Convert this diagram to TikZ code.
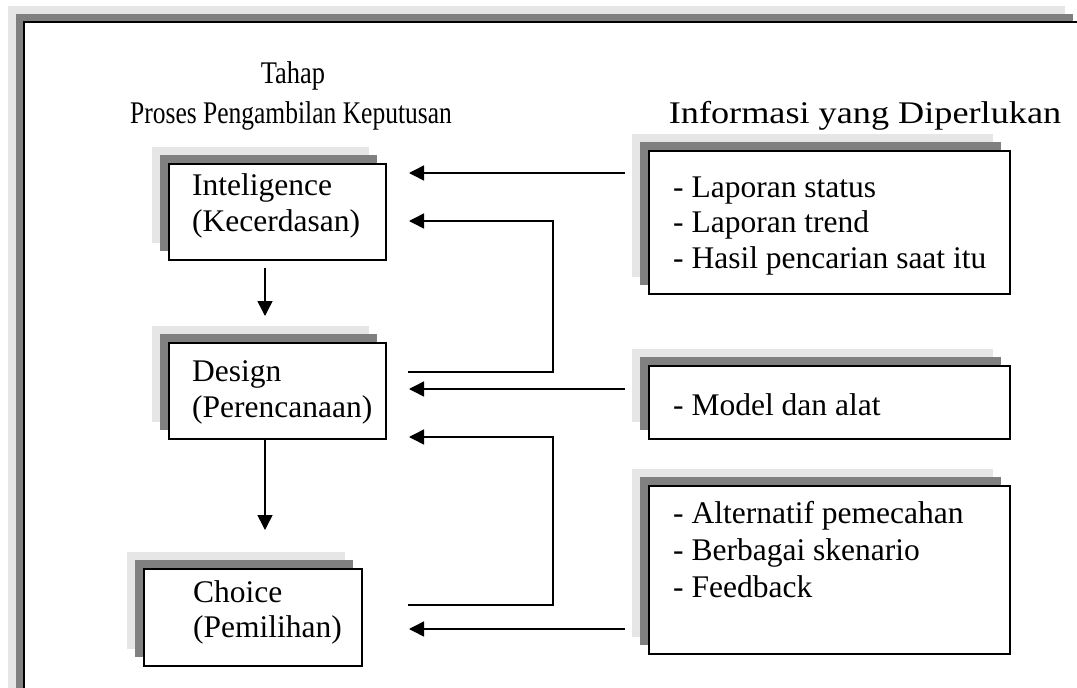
\documentclass[tikz,border=0pt]{standalone}
\usepackage{fontspec}
\setmainfont{Liberation Serif}
\usetikzlibrary{arrows.meta}
\definecolor{shlight}{RGB}{230,230,230}
\definecolor{shdark}{RGB}{128,128,128}
\tikzset{
  boxnode/.style={draw=black, line width=1.8pt, fill=white, rectangle, inner sep=0pt, anchor=north west},
  lbl/.style={anchor=base west, inner sep=0pt, font=\fontsize{31.5}{36}\selectfont},
  hdr/.style={anchor=base, inner sep=0pt, font=\fontsize{31.5}{36}\selectfont},
  conn/.style={line width=1.5pt, draw=black},
  arr/.style={conn, -{Triangle[length=15pt,width=15pt]}},
}
\newcommand\shadowed[5]{%
  \fill[shlight] (#2-16,#3-16) rectangle (#4-16,#5-16);
  \fill[shdark] (#2-8,#3-8) rectangle (#4-8,#5-8);
  \node[boxnode, minimum width={\the\numexpr#4-#2\relax pt}, minimum height={\the\numexpr#5-#3\relax pt}] (#1) at (#2,#3) {};
}
\begin{document}
\begin{tikzpicture}[x=1pt,y=-1pt]
\useasboundingbox (0,0) rectangle (1077,688);
\clip (0,0) rectangle (1077,688);
% outer frame
\fill[shlight] (8,6) rectangle (1065,720);
\fill[shdark] (16,14) rectangle (1073,720);
\draw[line width=2pt, fill=white] (24,22) rectangle (1100,720);

% headers
\node[hdr, xscale=0.84] (tahap) at (293,83) {Tahap};
\node[hdr, xscale=0.81] (proses) at (291,123) {Proses Pengambilan Keputusan};
\node[hdr, xscale=1.15] (informasi) at (865,123) {Informasi yang Diperlukan};

% boxes
\shadowed{int}{168}{163}{385}{259}
\shadowed{des}{168}{342}{385}{438}
\shadowed{cho}{143}{568}{361}{665}
\shadowed{infa}{648}{150}{1009}{293}
\shadowed{infb}{648}{365}{1009}{438}
\shadowed{infc}{648}{485}{1009}{653}

% box texts
\node[lbl] (inta) at (192,195) {Inteligence};
\node[lbl] (intb) at (192,231) {(Kecerdasan)};
\node[lbl] (desa) at (192,381) {Design};
\node[lbl] (desb) at (192,417) {(Perencanaan)};
\node[lbl] (choa) at (193,602) {Choice};
\node[lbl] (chob) at (193,637) {(Pemilihan)};

\node[lbl] (ia1) at (673,197) {- Laporan status};
\node[lbl] (ia2) at (673,232) {- Laporan trend};
\node[lbl] (ia3) at (673,268) {- Hasil pencarian saat itu};
\node[lbl] (ib1) at (673,415) {- Model dan alat};
\node[lbl] (ic1) at (673,523) {- Alternatif pemecahan};
\node[lbl] (ic2) at (673,560) {- Berbagai skenario};
\node[lbl] (ic3) at (673,597) {- Feedback};

% connector end points
\coordinate (v1s) at (265,268);
\coordinate (v1e) at (265,316);
\coordinate (v2e) at (265,530);
\coordinate (r1s) at (625,173);
\coordinate (r1e) at (409,173);
\coordinate (f1s) at (408,372);
\coordinate (f1c) at (553,372);
\coordinate (f1d) at (553,221);
\coordinate (f1e) at (409,221);
\coordinate (r2s) at (625,389);
\coordinate (r2e) at (409,389);
\coordinate (f2s) at (408,605);
\coordinate (f2c) at (553,605);
\coordinate (f2d) at (553,437);
\coordinate (f2e) at (409,437);
\coordinate (r3s) at (625,629);
\coordinate (r3e) at (409,629);

% vertical flow
\draw[arr] (v1s) -- (v1e);
\draw[arr] (des.south -| v1s) -- (v2e);
% information arrows
\draw[arr] (r1s) -- (r1e);
\draw[arr] (f1s) -- (f1c) -- (f1d) -- (f1e);
\draw[arr] (r2s) -- (r2e);
\draw[arr] (f2s) -- (f2c) -- (f2d) -- (f2e);
\draw[arr] (r3s) -- (r3e);
\end{tikzpicture}
\end{document}
